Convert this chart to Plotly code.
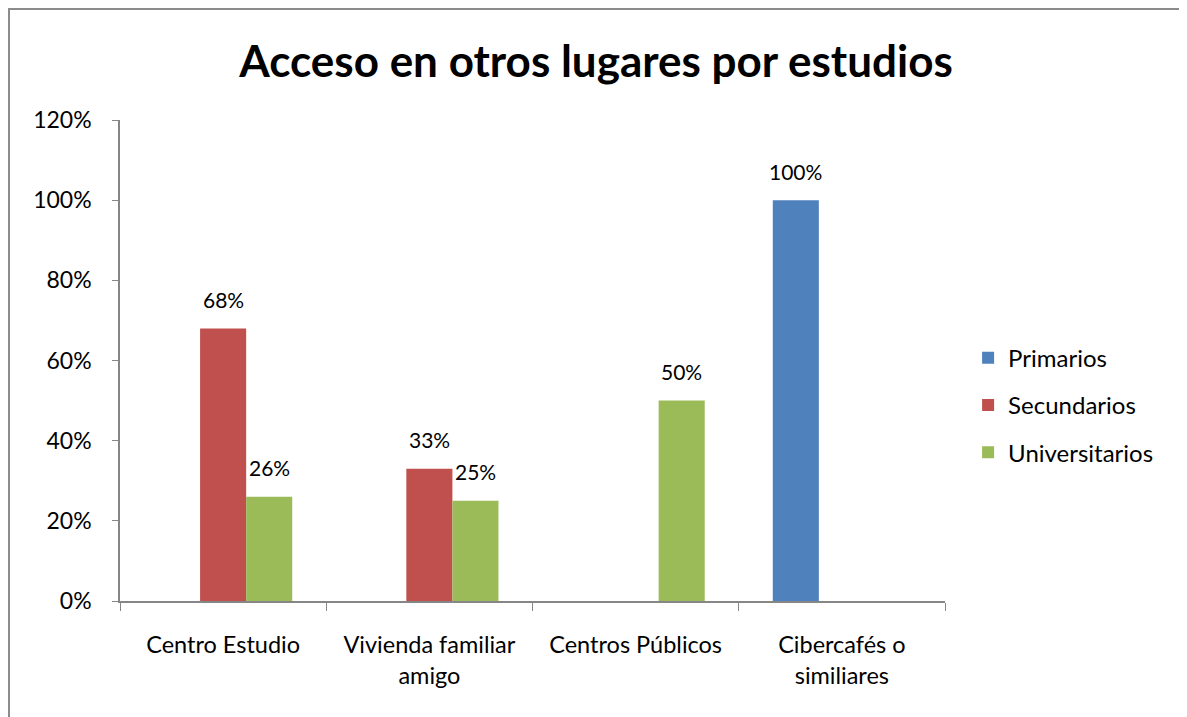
import plotly.graph_objects as go

# Data
categories = ["Centro Estudio", "Vivienda familiar<br>amigo", "Centros Públicos", "Cibercafés o<br>similiares"]
series_names = ["Primarios", "Secundarios", "Universitarios"]
primarios = [None, None, None, 1.00]
secundarios = [0.68, 0.33, None, None]
universitarios = [0.26, 0.25, 0.50, None]
y_ticks = [0, 0.2, 0.4, 0.6, 0.8, 1.0, 1.2]
y_tick_labels = ["0%", "20%", "40%", "60%", "80%", "100%", "120%"]

colors = ["#4F81BD", "#C0504D", "#9BBB59"]
font_family = "Lato, 'Open Sans', sans-serif"

# plot area size in px (figure sits 8px in from the page corner)
L, R, T, B = 112, 250, 112, 124
W, H = 1187, 717
plot_w = W - L - R
plot_h = H - T - B
bargap = 0.33
bar_w = plot_w / len(categories) * (1 - bargap) / len(series_names)

fig = go.Figure()
all_series = [primarios, secundarios, universitarios]
for i, (name, vals) in enumerate(zip(series_names, all_series)):
    fig.add_trace(go.Bar(
        x=categories, y=vals, name=name,
        marker=dict(color=colors[i], line=dict(width=0)),
        legendgroup=name,
    ))
    # data labels above the bars
    for cat, v in zip(categories, vals):
        if v is None:
            continue
        fig.add_annotation(
            x=cat, y=v, xref="x", yref="y", text=f"{v:.0%}",
            showarrow=False, xanchor="center", yanchor="middle",
            xshift=(i - 1) * bar_w, yshift=29,
            font=dict(size=21, family=font_family, color="#000000"),
        )

fig.update_layout(
    width=W, height=H,
    margin=dict(l=L, r=R, t=T, b=B),
    paper_bgcolor="white", plot_bgcolor="white",
    barmode="group", bargap=bargap, bargroupgap=0,
    font=dict(family=font_family, size=23, color="#000000"),
    title=dict(text="<b>Acceso en otros lugares por estudios</b>",
               x=(596 - 8) / W, xanchor="center", y=1 - 54 / H, yanchor="middle",
               font=dict(size=44, family=font_family, color="#000000")),
    legend=dict(x=1.028, xanchor="left", y=0.407, yanchor="middle",
                font=dict(size=24, family=font_family), tracegroupgap=13,
                traceorder="grouped", itemwidth=30),
    showlegend=True,
)

fig.update_xaxes(
    type="category", showline=True, linecolor="#868686", linewidth=1.5,
    ticks="outside", tickson="boundaries", ticklen=8, tickcolor="#868686",
    tickfont=dict(size=23.5, family=font_family, color="#000000"),
    ticklabelstandoff=22,
    showgrid=False, zeroline=False,
)
fig.update_yaxes(
    range=[0, 1.2], tickvals=y_ticks, ticktext=y_tick_labels,
    showline=True, linecolor="#868686", linewidth=1.5,
    ticks="outside", ticklen=6, tickcolor="#868686",
    tickfont=dict(size=23, family=font_family, color="#000000"),
    ticklabelstandoff=16,
    showgrid=False, zeroline=False,
)

# outer chart border (figure px -> paper coords)
fig.add_shape(type="rect", xref="paper", yref="paper",
              x0=(1 - L) / plot_w, x1=(1177 - L) / plot_w,
              y0=-0.3, y1=1 + (T - 1) / plot_h,
              line=dict(color="#8C8C8C", width=2), fillcolor="rgba(0,0,0,0)")

fig.write_html("out.html")
